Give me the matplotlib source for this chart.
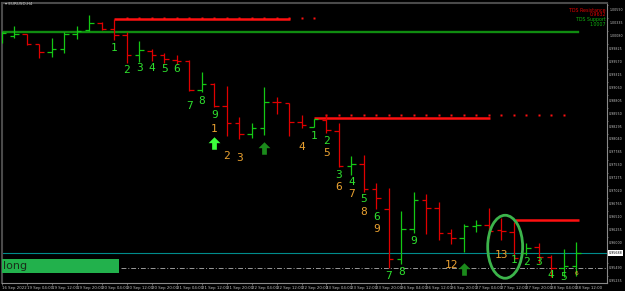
import matplotlib
matplotlib.use('Agg')
import matplotlib.pyplot as plt
import matplotlib.transforms as mtransforms
from matplotlib.patches import Ellipse, Rectangle
from matplotlib.path import Path

# ---------------- data (EURUSD, H4) ----------------
opens = [0.99898, 0.99983, 1.00011, 0.99813, 0.99655, 0.99714, 1.00017, 1.00102, 1.00240, 1.00110,
         0.99997, 0.99602, 0.99681, 0.99602, 0.99503, 0.99483, 0.98904, 0.99022, 0.98588, 0.98257,
         0.98040, 0.98165, 0.98673, 0.98647, 0.98277, 0.98172, 0.98317, 0.98105, 0.97417, 0.97447,
         0.96947, 0.96552, 0.95563, 0.96156, 0.96735, 0.96571, 0.96089, 0.95990, 0.96221, 0.96241,
         0.96152, 0.96109, 0.95682, 0.95800, 0.95615, 0.95397, 0.95431]
highs = [1.00076, 1.00175, 1.00023, 0.99825, 0.99932, 1.00056, 1.00175, 1.00392, 1.00260, 1.00323,
         1.00050, 0.99884, 0.99720, 0.99635, 0.99596, 0.99503, 0.99260, 0.99042, 0.98989, 0.98370,
         0.98263, 0.98975, 0.98765, 0.98659, 0.98410, 0.98337, 0.98416, 0.98263, 0.97605, 0.97625,
         0.97065, 0.96973, 0.96518, 0.96899, 0.96854, 0.96702, 0.96156, 0.96255, 0.96340, 0.96583,
         0.96385, 0.96294, 0.95879, 0.95879, 0.95648, 0.95767, 0.95899]
lows = [0.99839, 0.99944, 0.99805, 0.99548, 0.99556, 0.99647, 0.99912, 1.00082, 1.00096, 0.99898,
        0.99438, 0.99469, 0.99483, 0.99438, 0.99424, 0.98890, 0.98864, 0.98580, 0.98000, 0.97947,
        0.97961, 0.98014, 0.98435, 0.98000, 0.98153, 0.98169, 0.98060, 0.97394, 0.97230, 0.96899,
        0.96552, 0.95385, 0.95464, 0.96077, 0.96063, 0.95945, 0.95866, 0.95713, 0.96109, 0.95978,
        0.95945, 0.95569, 0.95648, 0.95484, 0.95219, 0.95219, 0.95239]
closes = [1.00036, 1.00011, 0.99813, 0.99655, 0.99714, 1.00017, 1.00082, 1.00240, 1.00110, 0.99997,
          0.99602, 0.99700, 0.99602, 0.99517, 0.99491, 0.98904, 0.99022, 0.98588, 0.98257, 0.98040,
          0.98165, 0.98673, 0.98663, 0.98277, 0.98212, 0.98331, 0.98119, 0.97413, 0.97447, 0.96959,
          0.96769, 0.95563, 0.96156, 0.96735, 0.96583, 0.96089, 0.95990, 0.96221, 0.96241, 0.96128,
          0.96132, 0.95583, 0.95792, 0.95615, 0.95397, 0.95431, 0.95688]

time_labels = ["16 Sep 2022", "19 Sep 04:00", "19 Sep 12:00", "19 Sep 20:00", "20 Sep 04:00",
               "20 Sep 12:00", "20 Sep 20:00", "21 Sep 04:00", "21 Sep 12:00", "21 Sep 20:00",
               "22 Sep 04:00", "22 Sep 12:00", "22 Sep 20:00", "23 Sep 04:00", "23 Sep 12:00",
               "23 Sep 20:00", "26 Sep 04:00", "26 Sep 12:00", "26 Sep 20:00", "27 Sep 04:00",
               "27 Sep 12:00", "27 Sep 20:00", "28 Sep 04:00", "28 Sep 12:00"]

price_ticks = [1.00590, 1.00335, 1.00080, 0.99825, 0.99570, 0.99315, 0.99060, 0.98805, 0.98550,
               0.98295, 0.98040, 0.97785, 0.97530, 0.97275, 0.97020, 0.96765, 0.96510, 0.96255,
               0.96000, 0.95490, 0.95235]

# TD counts: (bar index, price, text)
setup_labels = [(9, 0.99746, "1"), (10, 0.99304, "2"), (11, 0.99339, "3"), (12, 0.99339, "4"),
                (13, 0.99319, "5"), (14, 0.99319, "6"), (15, 0.98594, "7"), (16, 0.98692, "8"),
                (17, 0.98416, "9"),
                (25, 0.98006, "1"), (26, 0.97908, "2"), (27, 0.97230, "3"), (28, 0.97097, "4"),
                (29, 0.96749, "5"), (30, 0.96405, "6"), (31, 0.95239, "7"), (32, 0.95306, "8"),
                (33, 0.95924, "9"),
                (41, 0.95550, "1"), (42, 0.95516, "2"), (43, 0.95516, "3"), (44, 0.95254, "4"),
                (45, 0.95214, "5")]
countdown_labels = [(17, 0.98133, "1"), (18, 0.97611, "2"), (19, 0.97560, "3"), (24, 0.97777, "4"),
                    (26, 0.97670, "5"), (27, 0.96987, "6"), (28, 0.96848, "7"), (29, 0.96504, "8"),
                    (30, 0.96156, "9"), (36, 0.95459, "12"), (40, 0.95648, "13")]
small_countdown = [(46, 0.95287, "6")]

arrows_bright = [(17, 0.97856)]
arrows_dark = [(21, 0.97757), (37, 0.95370)]

support_level = 1.00066
resistance_lines = [(9, 23.1, 1.00309), (25, 39.1, 0.98362), (41.1, 46.2, 0.96334)]
resistance_dots = [(range(10, 26), 1.00327), (range(26, 46), 0.98416)]
current_price = 0.95688
dashdot_level = 0.95385

# ---------------- figure ----------------
W, H = 625, 291
fig = plt.figure(figsize=(W / 100, H / 100), dpi=100, facecolor='black')
ax = fig.add_axes([2 / W, 8 / H, 605 / W, 280 / H], facecolor='black')
ax.set_xlim(0.08, 48.48)
ax.set_ylim(0.950946, 1.006295)

up_c, dn_c = '#14c814', '#e00000'
tick = 0.36
for i, (o, h, l, c) in enumerate(zip(opens, highs, lows, closes)):
    col = up_c if c >= o else dn_c
    ax.plot([i, i], [l, h], color=col, lw=0.9, solid_capstyle='butt', zorder=3)
    ax.plot([i - tick, i], [o, o], color=col, lw=0.9, solid_capstyle='butt', zorder=3)
    ax.plot([i, i + tick], [c, c], color=col, lw=0.9, solid_capstyle='butt', zorder=3)

# support line
ax.plot([0.08, 46.18], [support_level] * 2, color='#108c10', lw=1.7, zorder=2)
# resistance lines
for x0, x1, v in resistance_lines:
    ax.plot([x0, x1], [v, v], color='#ff1010', lw=1.8, zorder=2, solid_capstyle='butt')
for rng, v in resistance_dots:
    xs = list(rng)
    ax.plot(xs, [v] * len(xs), ls='none', marker='s', ms=1.7, color='#ff1010', mec='none', zorder=2)

# current price & dash-dot
ax.axhline(current_price, color='#008c8c', lw=0.8, zorder=1)
ax.plot([9.52, 48.48], [dashdot_level] * 2, color='#9a9a9a', lw=0.7, ls=(0, (5, 2, 1, 2)), zorder=1)

# labels
for i, p, t in setup_labels:
    ax.text(i, p, t, color='#2ee02e', fontsize=8, family='DejaVu Sans Mono', ha='center', va='center', zorder=4)
for i, p, t in countdown_labels:
    ax.text(i, p, t, color='#e8a030', fontsize=8, family='DejaVu Sans Mono', ha='center', va='center', zorder=4)
for i, p, t in small_countdown:
    ax.text(i, p, t, color='#e8a030', fontsize=4.5, family='DejaVu Sans Mono', ha='center', va='center', zorder=4)

arrow_path = Path([(0, 1), (0.95, 0.05), (0.38, 0.05), (0.38, -1), (-0.38, -1), (-0.38, 0.05),
                   (-0.95, 0.05), (0, 1)], closed=True)
for i, p in arrows_bright:
    ax.plot([i], [p], marker=arrow_path, ms=9, color='#3cff3c', mec='none', ls='none', zorder=4)
for i, p in arrows_dark:
    ax.plot([i], [p], marker=arrow_path, ms=9, color='#1b8a1b', mec='none', ls='none', zorder=4)

# ellipse around bar 40
ax.add_patch(Ellipse((40.32, 0.95811), width=2.8, height=0.01245, fill=False,
                     ec='#3cb44b', lw=2, zorder=5))

# axes styling
for s in ['left', 'top']:
    ax.spines[s].set_color('#4a4a4a')
    ax.spines[s].set_linewidth(1.5)
for s in ['right', 'bottom']:
    ax.spines[s].set_color('#8a8a8a')
    ax.spines[s].set_linewidth(0.8)

ax.yaxis.tick_right()
ax.set_yticks(price_ticks)
ax.set_yticklabels([f"{v:.5f}" for v in price_ticks], fontsize=2.35, color='#c0c0c0')
ax.tick_params(axis='y', length=1, width=0.5, color='#8a8a8a', pad=0.6)
off = mtransforms.ScaledTranslation(0, -5 / 100, fig.dpi_scale_trans)
for lab in ax.get_yticklabels():
    lab.set_transform(lab.get_transform() + off)

ax.set_xticks(list(range(0, 47, 2)))
ax.set_xticklabels(time_labels, fontsize=2.8, color='#c0c0c0', ha='left')
ax.tick_params(axis='x', length=1.5, width=0.5, color='#8a8a8a', pad=1)

# current price box
ax.text(1.003, current_price, f"{current_price:.5f}", transform=ax.get_yaxis_transform(),
        fontsize=2.35, color='black', va='center', ha='left', clip_on=False, zorder=6,
        bbox=dict(boxstyle='square,pad=0.2', fc='white', ec='none'))

# top-left symbol
fig.text(5 / W, 1 - 4 / H, "\u25be EURUSD,H4", fontsize=3, color='#c8c8c8', va='center', ha='left')

# TDS info text
fig.text(606 / W, 1 - 10 / H, "TDS Resistance", fontsize=3.4, color='#e00000', ha='right', va='center')
fig.text(606 / W, 1 - 14.7 / H, "0.9632", fontsize=3.4, color='#e00000', ha='right', va='center')
fig.text(606 / W, 1 - 19.7 / H, "TDS Support", fontsize=3.4, color='#10b010', ha='right', va='center')
fig.text(606 / W, 1 - 24.3 / H, "1.0007", fontsize=3.4, color='#10b010', ha='right', va='center')

# "long" label box
fig.add_artist(Rectangle((2 / W, 1 - 273 / H), 117 / W, 14 / H, transform=fig.transFigure,
                         fc='#22b14c', ec='none', zorder=7))
fig.text(3 / W, 1 - 266 / H, "long", fontsize=8, color='#1a2e1a', ha='left', va='center', zorder=8)

fig.savefig('out.png', dpi=100, facecolor='black')
